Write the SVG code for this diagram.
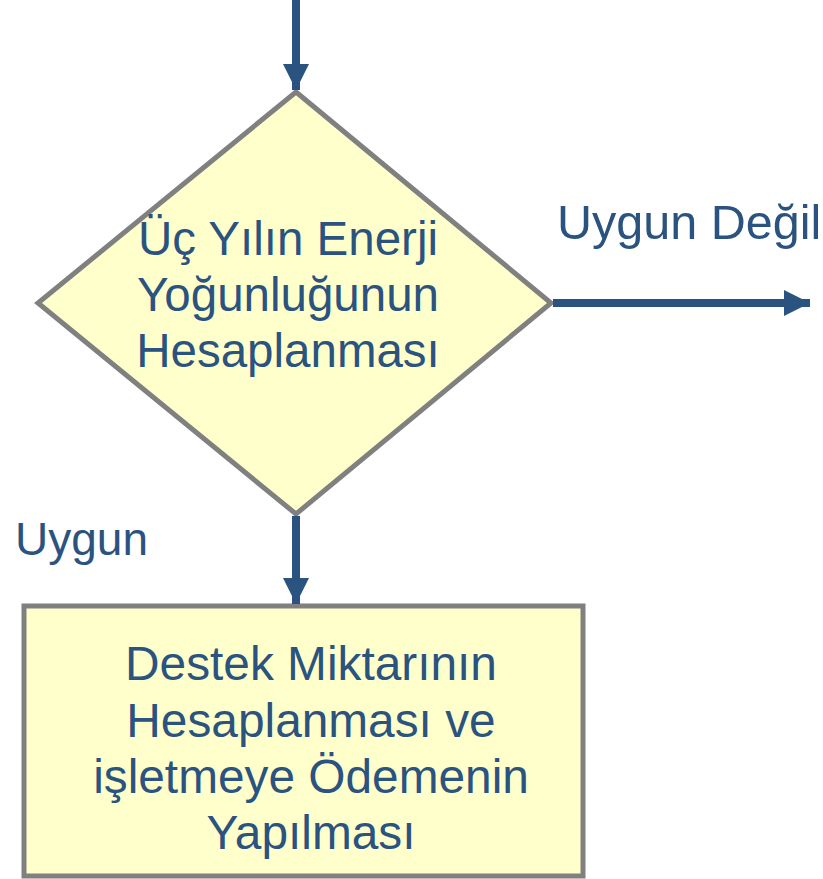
<svg xmlns="http://www.w3.org/2000/svg" width="823" height="879" viewBox="0 0 823 879">
<style>
.shape{fill:#FFFFCC;stroke:#808080;stroke-width:5;stroke-linejoin:miter}
.conn{stroke:#2A5380;stroke-width:8;fill:none}
.t{font-family:"Liberation Sans",Arial,sans-serif;fill:#2A5380;font-size:47.5px}
.tb{font-family:"Liberation Sans",Arial,sans-serif;fill:#2A5380;font-size:47.8px;text-anchor:middle}
</style>
<defs>
<marker id="ah" markerUnits="userSpaceOnUse" markerWidth="26" markerHeight="26" viewBox="0 0 24 24" refX="24" refY="12" orient="auto">
<polygon points="0,0 24,12 0,24" fill="#2A5380"/>
</marker>
</defs>
<g id="decision">
<polygon class="shape" points="296,92 551,303 296,514 38,303"/>
<text class="t" text-anchor="middle" x="288" y="255">Üç Yılın Enerji</text>
<text class="t" text-anchor="middle" x="288" y="311">Yoğunluğunun</text>
<text class="t" text-anchor="middle" x="288" y="367">Hesaplanması</text>
</g>
<g id="process">
<rect class="shape" x="24" y="606" width="559" height="270"/>
<text class="tb" x="311" y="680">Destek Miktarının</text>
<text class="tb" x="311" y="737">Hesaplanması ve</text>
<text class="tb" x="311" y="793">işletmeye Ödemenin</text>
<text class="tb" x="311" y="849">Yapılması</text>
</g>
<g id="connectors">
<line class="conn" x1="296" y1="0" x2="296" y2="90" marker-end="url(#ah)"/>
<line class="conn" x1="553" y1="303" x2="810" y2="303" stroke-width="7" marker-end="url(#ah)"/>
<line class="conn" x1="296" y1="516" x2="296" y2="604" marker-end="url(#ah)"/>
</g>
<g id="labels">
<text class="t" x="557" y="239" style="font-size:48.5px">Uygun Değil</text>
<text class="t" x="15" y="555" style="font-size:46px">Uygun</text>
</g>
</svg>
